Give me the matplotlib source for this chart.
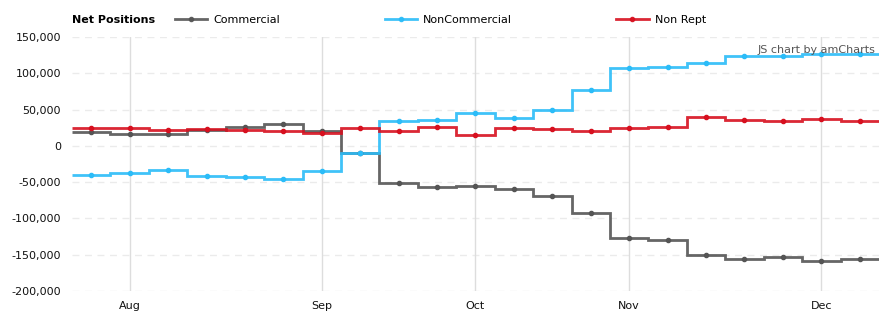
import numpy as np
import matplotlib.pyplot as plt
from matplotlib.lines import Line2D
from matplotlib.ticker import FuncFormatter

# weekly net positions (21 reports, late Jul -> Dec)
commercial = [19700, 16900, 16900, 21500, 26500, 30700, 20500, -9300, -51000, -56600,
              -55200, -59300, -69000, -91900, -126800, -129500, -150200, -155700,
              -153000, -158500, -155700]
noncommercial = [-40500, -36800, -33200, -41400, -42800, -45600, -34300, -9300, 34300, 35700,
                 45800, 39000, 49400, 77500, 107300, 108700, 114700, 123800,
                 123800, 126100, 126100]
nonrept = [25200, 24700, 21900, 22900, 21900, 20100, 17800, 24700, 20100, 25600,
           15500, 24700, 23300, 20500, 24700, 26000, 40300, 35700, 34300, 37000, 34300]

month_idx = [1, 6, 10, 14, 19]
month_labels = ['Aug', 'Sep', 'Oct', 'Nov', 'Dec']
y_ticks = [150000, 100000, 50000, 0, -50000, -100000, -150000, -200000]

series = [('Commercial', commercial, '#555555'),
          ('NonCommercial', noncommercial, '#2bbcf8'),
          ('Non Rept', nonrept, '#d7101f')]

fig = plt.figure(figsize=(8.94, 3.26), dpi=100)
ax = fig.add_axes([72 / 894, 1 - 291 / 326, (879 - 72) / 894, 254 / 326])

n = len(commercial)
x = np.arange(n)
edges = np.arange(n + 1) - 0.5
for name, vals, col in series:
    ax.stairs(vals, edges, baseline=None, color=col, lw=2, alpha=0.9, zorder=3)
    ax.plot(x, vals, 'o', color=col, ms=3, zorder=4)

ax.set_xlim(-0.5, n - 0.5)
ax.set_ylim(-200000, 150000)
ax.set_yticks(y_ticks)
ax.yaxis.set_major_formatter(FuncFormatter(lambda v, p: f'{int(v):,}'))
ax.set_xticks(month_idx)
ax.set_xticklabels(month_labels)
ax.tick_params(length=0, labelsize=8, labelcolor='#111111', pad=8)
ax.tick_params(axis='x', pad=7)

for s in ax.spines.values():
    s.set_visible(False)
for v in y_ticks:
    ax.axhline(v, color='#ebebeb', lw=1, dashes=(5, 4), zorder=1)
for m in month_idx:
    ax.axvline(m, color='#dddddd', lw=1, zorder=1)

fig.text(72 / 894, 1 - 20 / 326, 'Net Positions', fontsize=8, fontweight='bold',
         va='center', ha='left', color='#000000')
handles = [Line2D([], [], color=col, lw=2, marker='o', ms=3, alpha=0.9) for _, _, col in series]
fig.legend(handles, [s[0] for s in series], loc='center left',
           bbox_to_anchor=(175 / 894, 1 - 20 / 326), ncol=3, frameon=False,
           fontsize=8, handlelength=2.9, handletextpad=0.55, columnspacing=9.4,
           borderpad=0, borderaxespad=0)

fig.text(875 / 894, 1 - 50 / 326, 'JS chart by amCharts', fontsize=8, color='#555555',
         ha='right', va='center')

fig.savefig('out.png', dpi=100)
